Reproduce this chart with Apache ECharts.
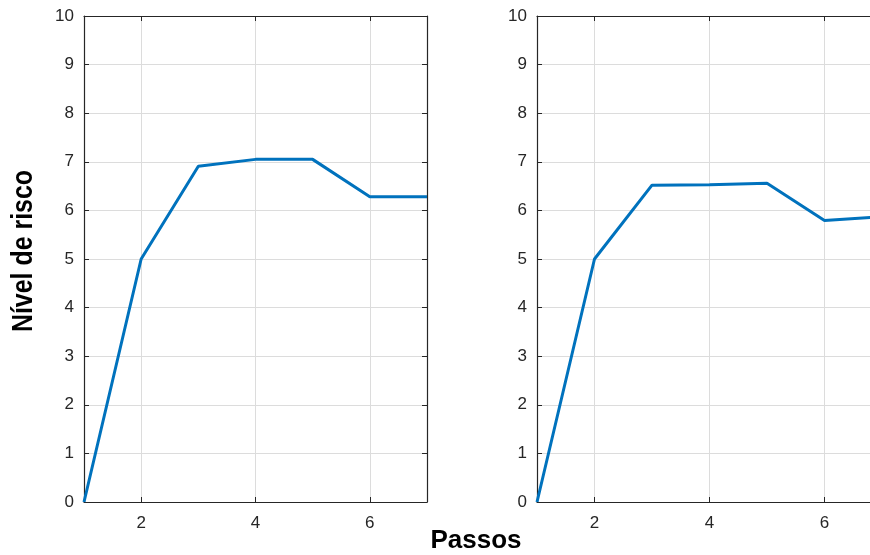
<!DOCTYPE html>
<html>
<head>
<meta charset="utf-8">
<script src="https://cdn.jsdelivr.net/npm/echarts@6/dist/echarts.min.js"></script>
<style>
  html, body { margin: 0; padding: 0; background: #fff; }
  #chart { width: 870px; height: 555px; }
</style>
</head>
<body>
<div id="chart"></div>
<script>
// Risk level per step, two scenarios side by side
const passos = [1, 2, 3, 4, 5, 6, 7];
const riscoA = [0, 5.0, 6.91, 7.05, 7.05, 6.28, 6.28];
const riscoB = [0, 5.0, 6.52, 6.53, 6.56, 5.79, 5.87];
const xTicks = [2, 4, 6];

const axisColor = '#262626';
const gridColor = '#dcdcdc';
const labelFont = { fontFamily: 'Liberation Sans, Arial, sans-serif', fontSize: 17, color: axisColor };

function pairs(xs, ys) { return xs.map((x, i) => [x, ys[i]]); }

function xAxisDef(gridIndex, position, showLabels) {
  return {
    type: 'value', gridIndex, position, min: 1, max: 7,
    axisLine: { show: true, onZero: false, lineStyle: { color: axisColor, width: 1.2 } },
    axisTick: { show: true, inside: true, length: 5, customValues: xTicks, lineStyle: { color: axisColor } },
    axisLabel: { show: showLabels, customValues: xTicks, margin: 13, ...labelFont },
    splitLine: { show: showLabels, lineStyle: { color: gridColor, width: 1 } }
  };
}
function yAxisDef(gridIndex, position, showLabels, showLine) {
  return {
    type: 'value', gridIndex, position, min: 0, max: 10, interval: 1,
    show: showLine !== false,
    axisLine: { show: true, onZero: false, lineStyle: { color: axisColor, width: 1.2 } },
    axisTick: { show: true, inside: true, length: 5, lineStyle: { color: axisColor } },
    axisLabel: { show: showLabels, margin: 10, ...labelFont },
    splitLine: { show: showLabels, lineStyle: { color: gridColor, width: 1 } }
  };
}

const chart = echarts.init(document.getElementById('chart'));
chart.setOption({
  backgroundColor: '#ffffff',
  animation: false,
  grid: [
    { left: 84, width: 343, top: 16, bottom: 53, outerBoundsMode: 'none' },
    // second panel runs past the right edge of the canvas
    { left: 537, width: 345, top: 16, bottom: 53, outerBoundsMode: 'none' }
  ],
  xAxis: [
    xAxisDef(0, 'bottom', true), xAxisDef(0, 'top', false),
    xAxisDef(1, 'bottom', true), xAxisDef(1, 'top', false)
  ],
  yAxis: [
    yAxisDef(0, 'left', true), yAxisDef(0, 'right', false),
    yAxisDef(1, 'left', true), yAxisDef(1, 'right', false)
  ],
  series: [
    { type: 'line', xAxisIndex: 0, yAxisIndex: 0, data: pairs(passos, riscoA),
      showSymbol: false, clip: true, lineStyle: { color: '#0072BD', width: 3 } },
    { type: 'line', xAxisIndex: 2, yAxisIndex: 2, data: pairs(passos, riscoB),
      showSymbol: false, clip: true, lineStyle: { color: '#0072BD', width: 3 } }
  ],
  graphic: [
    { type: 'text', x: 476, y: 541,
      style: { text: 'Passos', font: 'bold 26px "Liberation Sans", Arial, sans-serif',
               fill: '#000', align: 'center', verticalAlign: 'middle' } },
    { type: 'text', x: 24, y: 251, rotation: Math.PI / 2, scaleX: 0.86,
      style: { text: 'Nível de risco', font: 'bold 29px "Liberation Sans", Arial, sans-serif',
               fill: '#000', align: 'center', verticalAlign: 'middle' } }
  ]
});
</script>
</body>
</html>
